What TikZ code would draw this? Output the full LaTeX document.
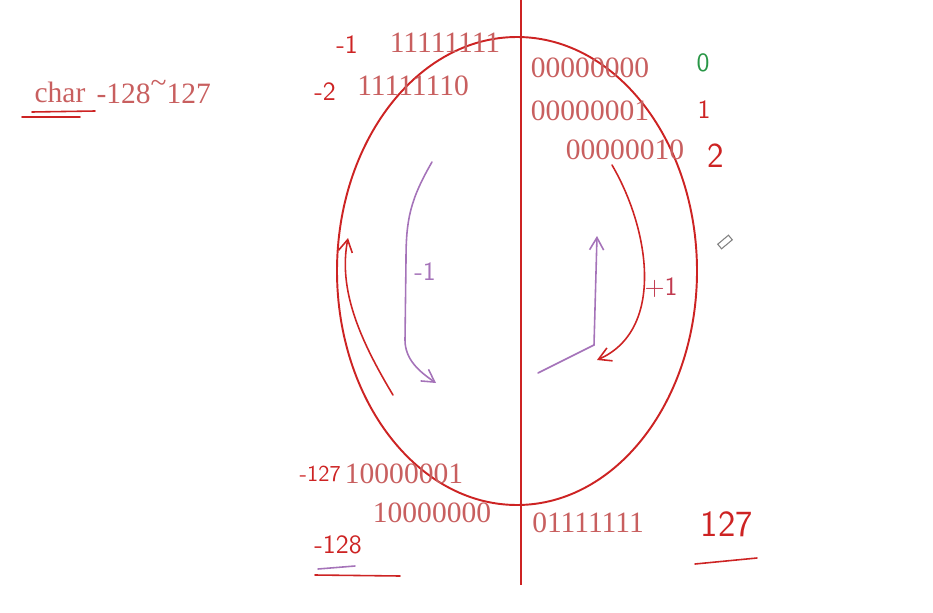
\documentclass[tikz,border=0pt]{standalone}
\usepackage{fontspec}
\setmainfont{Liberation Serif}
\usetikzlibrary{arrows.meta, positioning}
\definecolor{ringRed}{RGB}{205,35,35}
\definecolor{bitRed}{RGB}{200,95,95}
\definecolor{penPurple}{RGB}{165,115,185}
\definecolor{penGreen}{RGB}{40,150,70}

\begin{document}
\begin{tikzpicture}[x=0.02cm, y=-0.02cm, >=Stealth]
    \useasboundingbox (0,0) rectangle (933,612);
    \tikzset{
        bits/.style={text=bitRed, font=\fontsize{16.8}{19}\selectfont, inner sep=0pt},
        hand/.style={text=ringRed, font=\sffamily\fontsize{15}{18}\selectfont, inner sep=0pt},
        pen/.style={line width=0.9pt, line cap=round},
        penArrow/.style={pen, -{Straight Barb[length=7pt, width=8pt]}}
    }
    \coordinate (axisTop) at (521,0);
    \coordinate (axisBot) at (521,585);

    % the ring of byte values and the zero axis
    \draw[ringRed, line width=1.1pt] (517,271) ellipse (180 and 234);
    \draw[ringRed, line width=1.1pt] (axisTop) -- (axisBot);

    % title
    \node[bits] (charT) at (60,92) {char};
    \node[bits, right=6pt of charT] (range) {-128\raisebox{.35em}{\textasciitilde}127};
    \draw[ringRed, pen] (32,112) -- (95,111);
    \draw[ringRed, pen] (22,117) -- (80,117);

    % negative side
    \node[bits] (m1bits) at (445,43) {11111111};
    \node[bits] (m2bits) at (413,86) {11111110};
    \node[bits] (m127bits) at (404,474) {10000001};
    \node[bits] (m128bits) at (432,513) {10000000};
    \node[hand] (m1) at (347,45) {-1};
    \node[hand] (m2) at (325,92) {-2};
    \node[hand, font=\sffamily\fontsize{13}{16}\selectfont, left=2pt of m127bits] (m127) {-127};
    \node[hand] (m128) at (338,545) {-128};
    \draw[penPurple, pen] (318,569) -- (355,566);
    \draw[ringRed, pen] (315,575) -- (400,576);

    % positive side
    \node[bits] (p0bits) at (590,68) {00000000};
    \node[bits] (p1bits) at (590,111) {00000001};
    \node[bits] (p2bits) at (625,150) {00000010};
    \node[bits] (p127bits) at (588,523) {01111111};
    \node[hand, text=penGreen] (p0) at (703,63) {0};
    \node[hand] (p1) at (704,110) {1};
    \node[hand, font=\sffamily\fontsize{20}{22}\selectfont] (p2) at (716,156) {2};
    \node[hand, font=\sffamily\fontsize{21}{24}\selectfont] (p127) at (727,524) {127};
    \draw[ringRed, pen] (695,564) -- (757,558);

    % counting arrows
    \coordinate (leftStart) at (393,395);
    \coordinate (leftEnd) at (348,238);
    \draw[ringRed, penArrow] (leftStart) .. controls (360,340) and (338,290) .. (leftEnd);

    \coordinate (minusStart) at (432,162);
    \coordinate (minusEnd) at (436,383);
    \draw[penPurple, penArrow] (minusStart) .. controls (410,200) and (406,220) .. (406,260)
        -- (405,340) .. controls (405,360) and (420,372) .. (minusEnd);
    \node[hand, text=penPurple] (minusOne) at (425,272) {-1};

    \coordinate (plusStart) at (612,165);
    \coordinate (plusEnd) at (597,360);
    \draw[ringRed, penArrow] (plusStart) .. controls (650,230) and (665,330) .. (plusEnd);
    \node[hand, text=ringRed!70!penPurple] (plusOne) at (661,288) {+1};

    \coordinate (upStart) at (538,373);
    \coordinate (upEnd) at (597,236);
    \draw[penPurple, penArrow] (upStart) -- (594,345) -- (upEnd);

    % pen cursor
    \draw[gray, line width=0.6pt, rotate around={40:(725,242)}] (718,239) rectangle (732,245);
\end{tikzpicture}
\end{document}
